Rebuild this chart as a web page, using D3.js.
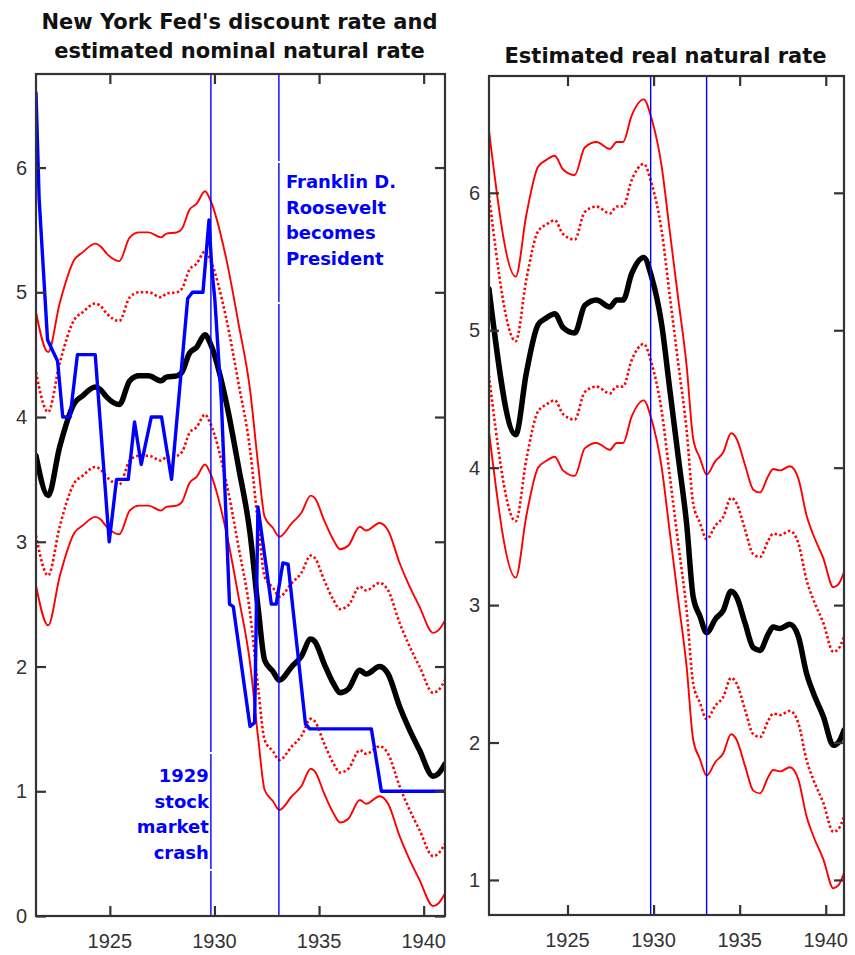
<!DOCTYPE html>
<html>
<head>
<meta charset="utf-8">
<script src="https://cdn.jsdelivr.net/npm/d3@7"></script>
<style>
body{margin:0;background:#fff;}
svg{display:block;}
</style>
</head>
<body>
<svg id="chart" width="855" height="955"></svg>
<script>
// ---- data ----
var xTickYears = [1925, 1930, 1935, 1940];
var nominalTicks = [0, 1, 2, 3, 4, 5, 6];
var realTicks = [1, 2, 3, 4, 5, 6];
var eventYears = [1929.83, 1933.08];

var nominalYears = [1921.47, 1922.05, 1922.6, 1923.3, 1923.7, 1924.3, 1924.55, 1924.85, 1925.45, 1925.95,
	1926.4, 1926.85, 1927.45, 1927.7, 1928.2, 1928.45, 1928.8, 1929.15, 1929.55, 1929.8,
	1930.55, 1931.15, 1931.7, 1932.1, 1932.4, 1932.8, 1933.1, 1933.7, 1934.15, 1934.6,
	1934.8, 1935.25, 1935.7, 1936.0, 1936.4, 1936.95, 1937.25, 1937.9, 1938.3, 1938.85,
	1939.25, 1939.8, 1940.45, 1940.7, 1941.02];
var nominalRate = [3.69, 3.37, 3.76, 4.11, 4.17, 4.24, 4.22, 4.16, 4.10, 4.29,
	4.33, 4.33, 4.29, 4.32, 4.33, 4.36, 4.51, 4.56, 4.66, 4.59,
	4.13, 3.60, 3.07, 2.45, 2.05, 1.96, 1.89, 2.00, 2.08, 2.22,
	2.20, 2.02, 1.86, 1.79, 1.82, 1.97, 1.94, 2.00, 1.94, 1.68,
	1.52, 1.33, 1.12, 1.14, 1.22];
var nominalUpper95 = [4.84, 4.52, 4.91, 5.26, 5.32, 5.39, 5.37, 5.31, 5.25, 5.44,
	5.48, 5.48, 5.44, 5.47, 5.48, 5.51, 5.66, 5.71, 5.81, 5.74,
	5.28, 4.75, 4.22, 3.60, 3.20, 3.11, 3.04, 3.15, 3.23, 3.37,
	3.35, 3.17, 3.01, 2.94, 2.97, 3.12, 3.09, 3.15, 3.09, 2.83,
	2.67, 2.48, 2.27, 2.29, 2.37];
var nominalUpper68 = [4.36, 4.04, 4.43, 4.78, 4.84, 4.91, 4.89, 4.83, 4.77, 4.96,
	5.00, 5.00, 4.96, 4.99, 5.00, 5.03, 5.18, 5.23, 5.33, 5.26,
	4.80, 4.27, 3.74, 3.12, 2.72, 2.63, 2.56, 2.67, 2.75, 2.89,
	2.87, 2.69, 2.53, 2.46, 2.49, 2.64, 2.61, 2.67, 2.61, 2.35,
	2.19, 2.00, 1.79, 1.81, 1.89];
var nominalLower68 = [3.05, 2.73, 3.12, 3.47, 3.53, 3.60, 3.58, 3.52, 3.46, 3.65,
	3.69, 3.69, 3.65, 3.68, 3.69, 3.72, 3.87, 3.92, 4.02, 3.95,
	3.49, 2.96, 2.43, 1.81, 1.41, 1.32, 1.25, 1.36, 1.44, 1.58,
	1.56, 1.38, 1.22, 1.15, 1.18, 1.33, 1.30, 1.36, 1.30, 1.04,
	0.88, 0.69, 0.48, 0.50, 0.58];
var nominalLower95 = [2.65, 2.33, 2.72, 3.07, 3.13, 3.20, 3.18, 3.12, 3.06, 3.25,
	3.29, 3.29, 3.25, 3.28, 3.29, 3.32, 3.47, 3.52, 3.62, 3.55,
	3.09, 2.56, 2.03, 1.41, 1.01, 0.92, 0.85, 0.96, 1.04, 1.18,
	1.16, 0.98, 0.82, 0.75, 0.78, 0.93, 0.90, 0.96, 0.90, 0.64,
	0.48, 0.29, 0.08, 0.10, 0.18];

var discountYears = [1921.47, 1921.62, 1922.02, 1922.3, 1922.5, 1922.75, 1923.1, 1923.45, 1924.3, 1924.97,
	1925.32, 1925.88, 1926.18, 1926.5, 1926.98, 1927.47, 1927.95, 1928.72, 1928.95, 1929.45,
	1929.74, 1929.87, 1930.02, 1930.33, 1930.72, 1930.9, 1931.7, 1931.92, 1932.08, 1932.72,
	1932.95, 1933.27, 1933.52, 1934.35, 1934.55, 1937.5, 1937.98, 1941.02];
var discountRate = [6.6, 5.75, 4.62, 4.52, 4.45, 4.0, 4.0, 4.5, 4.5, 3.0,
	3.5, 3.5, 3.96, 3.62, 4.0, 4.0, 3.5, 4.95, 5.0, 5.0,
	5.58, 5.2, 4.94, 4.13, 2.5, 2.48, 1.52, 1.55, 3.28, 2.5,
	2.5, 2.83, 2.82, 1.54, 1.5, 1.5, 1.0, 1.0];

var realYears = [1920.44, 1921.99, 1922.61, 1923.29, 1923.78, 1924.26, 1924.74, 1925.42, 1926.0, 1926.68,
	1927.46, 1927.85, 1928.23, 1928.72, 1929.43, 1929.88, 1930.46, 1930.95, 1931.43, 1931.92,
	1932.3, 1932.69, 1933.08, 1933.6, 1934.04, 1934.5, 1934.82, 1935.31, 1935.79, 1936.18,
	1936.66, 1936.95, 1937.34, 1937.92, 1938.41, 1938.89, 1939.28, 1939.86, 1940.44, 1940.73,
	1941.06];
var realRate = [5.30, 4.24, 4.69, 5.04, 5.09, 5.12, 5.02, 4.98, 5.18, 5.22,
	5.17, 5.22, 5.22, 5.41, 5.53, 5.39, 5.05, 4.56, 4.08, 3.59,
	3.06, 2.92, 2.80, 2.90, 2.96, 3.10, 3.06, 2.87, 2.69, 2.67,
	2.79, 2.84, 2.83, 2.86, 2.77, 2.50, 2.36, 2.19, 1.98, 2.00,
	2.09];
var realUpper95 = [6.45, 5.39, 5.84, 6.19, 6.24, 6.27, 6.17, 6.13, 6.33, 6.37,
	6.32, 6.37, 6.37, 6.56, 6.68, 6.54, 6.20, 5.71, 5.23, 4.74,
	4.21, 4.07, 3.95, 4.05, 4.11, 4.25, 4.21, 4.02, 3.84, 3.82,
	3.94, 3.99, 3.98, 4.01, 3.92, 3.65, 3.51, 3.34, 3.13, 3.15,
	3.24];
var realUpper68 = [5.98, 4.92, 5.37, 5.72, 5.77, 5.80, 5.70, 5.66, 5.86, 5.90,
	5.85, 5.90, 5.90, 6.09, 6.21, 6.07, 5.73, 5.24, 4.76, 4.27,
	3.74, 3.60, 3.48, 3.58, 3.64, 3.78, 3.74, 3.55, 3.37, 3.35,
	3.47, 3.52, 3.51, 3.54, 3.45, 3.18, 3.04, 2.87, 2.66, 2.68,
	2.77];
var realLower68 = [4.67, 3.61, 4.06, 4.41, 4.46, 4.49, 4.39, 4.35, 4.55, 4.59,
	4.54, 4.59, 4.59, 4.78, 4.90, 4.76, 4.42, 3.93, 3.45, 2.96,
	2.43, 2.29, 2.17, 2.27, 2.33, 2.47, 2.43, 2.24, 2.06, 2.04,
	2.16, 2.21, 2.20, 2.23, 2.14, 1.87, 1.73, 1.56, 1.35, 1.37,
	1.46];
var realLower95 = [4.26, 3.20, 3.65, 4.00, 4.05, 4.08, 3.98, 3.94, 4.14, 4.18,
	4.13, 4.18, 4.18, 4.37, 4.49, 4.35, 4.01, 3.52, 3.04, 2.55,
	2.02, 1.88, 1.76, 1.86, 1.92, 2.06, 2.02, 1.83, 1.65, 1.63,
	1.75, 1.80, 1.79, 1.82, 1.73, 1.46, 1.32, 1.15, 0.94, 0.96,
	1.05];

var nominalTitle = ["New York Fed's discount rate and", "estimated nominal natural rate"];
var realTitle = ["Estimated real natural rate"];
var crashLabel = ["1929", "stock", "market", "crash"];
var fdrLabel = ["Franklin D.", "Roosevelt", "becomes", "President"];

// ---- styles ----
var TITLE_FONT = '"DejaVu Sans", Verdana, sans-serif';
var TICK_FONT = '"Liberation Sans", Arial, sans-serif';
var BLUE = '#0000ff';
var RED = '#ff0000';
var FRAME = '#333333';

function zipSeries(xs, ys){
	return xs.map(function(x, i){ return [x, ys[i]]; });
}

function drawPanel(svg, cfg){
	var x = d3.scaleLinear().domain(cfg.xDomain).range([cfg.left, cfg.right]),
	y = d3.scaleLinear().domain(cfg.yDomain).range([cfg.bottom, cfg.top]),
	g = svg.append('g').attr('class', 'panel-' + cfg.id);

	g.append('clipPath').attr('id', 'clip-' + cfg.id)
		.append('rect')
		.attr('x', cfg.left).attr('y', cfg.top)
		.attr('width', cfg.right - cfg.left).attr('height', cfg.bottom - cfg.top);

	var plot = g.append('g').attr('clip-path', 'url(#clip-' + cfg.id + ')');

	var smooth = d3.line().x(function(d){ return x(d[0]); }).y(function(d){ return y(d[1]); })
		.curve(d3.curveMonotoneX);
	var straight = d3.line().x(function(d){ return x(d[0]); }).y(function(d){ return y(d[1]); });

	cfg.series.forEach(function(s){
		plot.append('path')
			.datum(zipSeries(s.years, s.values))
			.attr('d', s.step ? straight : smooth)
			.attr('fill', 'none')
			.attr('stroke', s.color)
			.attr('stroke-width', s.width)
			.attr('stroke-dasharray', s.dash || null)
			.attr('stroke-linejoin', 'round')
			.attr('stroke-linecap', s.dash ? 'butt' : 'round');
	});

	// event lines
	plot.selectAll('line.event').data(eventYears).enter().append('line')
		.attr('class', 'event')
		.attr('x1', function(d){ return x(d); }).attr('x2', function(d){ return x(d); })
		.attr('y1', cfg.top).attr('y2', cfg.bottom)
		.attr('stroke', BLUE).attr('stroke-width', 1.4);

	// annotations
	(cfg.notes || []).forEach(function(n){
		var lx = x(eventYears[n.event]);
		// the white edge of the text box cuts the event line
		n.gaps.forEach(function(gy){
			g.append('line').attr('x1', lx - 3).attr('x2', lx + 3)
				.attr('y1', gy).attr('y2', gy)
				.attr('stroke', '#fff').attr('stroke-width', 2);
		});
		var t = g.append('text')
			.attr('font-family', TITLE_FONT).attr('font-weight', 'bold')
			.attr('font-size', 18).attr('fill', BLUE)
			.attr('text-anchor', n.anchor);
		n.lines.forEach(function(s, i){
			t.append('tspan').attr('x', lx + n.dx).attr('y', n.y + i * 25.5).text(s);
		});
	});

	// frame
	g.append('rect')
		.attr('x', cfg.left).attr('y', cfg.top)
		.attr('width', cfg.right - cfg.left).attr('height', cfg.bottom - cfg.top)
		.attr('fill', 'none').attr('stroke', FRAME).attr('stroke-width', 2.2);

	// inward ticks on all four sides
	var tl = 10;
	var xAxisB = d3.axisBottom(x).tickValues(xTickYears).tickSizeInner(-tl).tickSizeOuter(0).tickFormat('');
	var xAxisT = d3.axisTop(x).tickValues(xTickYears).tickSizeInner(-tl).tickSizeOuter(0).tickFormat('');
	var yAxisL = d3.axisLeft(y).tickValues(cfg.yTicks).tickSizeInner(-tl).tickSizeOuter(0).tickFormat('');
	var yAxisR = d3.axisRight(y).tickValues(cfg.yTicks).tickSizeInner(-tl).tickSizeOuter(0).tickFormat('');
	[
		[xAxisB, 'translate(0,' + cfg.bottom + ')'],
		[xAxisT, 'translate(0,' + cfg.top + ')'],
		[yAxisL, 'translate(' + cfg.left + ',0)'],
		[yAxisR, 'translate(' + cfg.right + ',0)']
	].forEach(function(a){
		var ax = g.append('g').attr('transform', a[1]).call(a[0]);
		ax.select('.domain').remove();
		ax.selectAll('line').attr('stroke', FRAME).attr('stroke-width', 2.2);
	});

	// tick labels
	g.append('g').selectAll('text').data(xTickYears).enter().append('text')
		.attr('x', function(d){ return x(d); }).attr('y', cfg.bottom + 32)
		.attr('text-anchor', 'middle')
		.attr('font-family', TICK_FONT).attr('font-size', 20).attr('fill', '#333')
		.text(function(d){ return d; });
	g.append('g').selectAll('text').data(cfg.yTicks).enter().append('text')
		.attr('x', cfg.left - 9).attr('y', function(d){ return y(d); }).attr('dy', '0.36em')
		.attr('text-anchor', 'end')
		.attr('font-family', TICK_FONT).attr('font-size', 20).attr('fill', '#333')
		.text(function(d){ return d; });

	// title
	var title = g.append('text')
		.attr('font-family', TITLE_FONT).attr('font-weight', 'bold')
		.attr('font-size', 21).attr('fill', '#111').attr('text-anchor', 'middle');
	cfg.title.forEach(function(s, i){
		title.append('tspan').attr('x', (cfg.left + cfg.right) / 2 - 1)
			.attr('y', cfg.titleY + i * 29).text(s);
	});
}

var svg = d3.select('#chart');

drawPanel(svg, {
	id: 'nominal',
	left: 36, right: 445, top: 74, bottom: 916,
	xDomain: [1921.47, 1941.02],
	yDomain: [0, 6.75],
	yTicks: nominalTicks,
	title: nominalTitle,
	titleY: 29,
	series: [
		{years: nominalYears, values: nominalUpper95, color: RED, width: 1.9},
		{years: nominalYears, values: nominalLower95, color: RED, width: 1.9},
		{years: nominalYears, values: nominalUpper68, color: RED, width: 2.6, dash: '2.4,2.4'},
		{years: nominalYears, values: nominalLower68, color: RED, width: 2.6, dash: '2.4,2.4'},
		{years: nominalYears, values: nominalRate, color: '#000', width: 5.5},
		{years: discountYears, values: discountRate, color: BLUE, width: 3.4, step: true}
	],
	notes: [
		{event: 0, lines: crashLabel, anchor: 'end', dx: -2, y: 782, gaps: [753, 870]},
		{event: 1, lines: fdrLabel, anchor: 'start', dx: 7, y: 188, gaps: [162, 303]}
	]
});

drawPanel(svg, {
	id: 'real',
	left: 489, right: 844, top: 76, bottom: 915,
	xDomain: [1920.44, 1941.06],
	yDomain: [0.745, 6.85],
	yTicks: realTicks,
	title: realTitle,
	titleY: 63,
	series: [
		{years: realYears, values: realUpper95, color: RED, width: 1.9},
		{years: realYears, values: realLower95, color: RED, width: 1.9},
		{years: realYears, values: realUpper68, color: RED, width: 2.6, dash: '2.4,2.4'},
		{years: realYears, values: realLower68, color: RED, width: 2.6, dash: '2.4,2.4'},
		{years: realYears, values: realRate, color: '#000', width: 5.5}
	]
});
</script>
</body>
</html>
